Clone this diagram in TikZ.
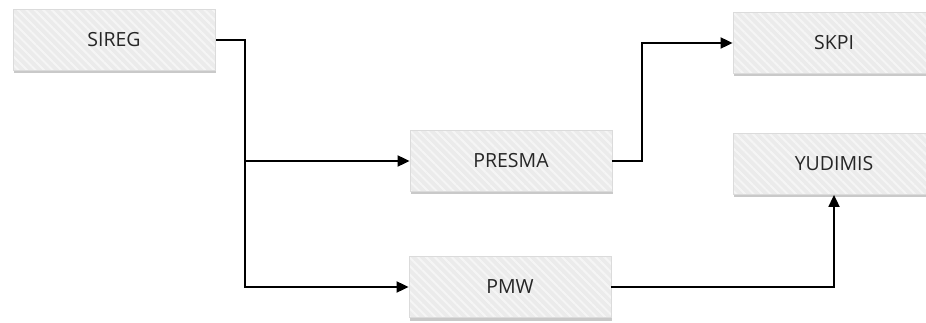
\documentclass[tikz,border=0pt]{standalone}
\usepackage{fontspec}
\setmainfont{Open Sans}
\usetikzlibrary{arrows.meta}
\usetikzlibrary{shadows}
\usetikzlibrary{patterns.meta}

\tikzset{
  module/.style={draw=black!14, line width=0.8pt,
    preaction={drop shadow={shadow xshift=1pt, shadow yshift=-3pt, fill=black!35, opacity=0.6}},
    preaction={fill=black!8},
    pattern={Lines[angle=-45,distance=6pt,line width=2pt]}, pattern color=black!4,
    minimum width=202pt, minimum height=61pt,
    text=black!85, font=\fontsize{19.5}{22}\selectfont},
  flow/.style={line width=1.8pt, -{Triangle[length=12pt,width=11pt]}}
}

\begin{document}
\begin{tikzpicture}[x=1pt, y=-1pt]
  \useasboundingbox (0,0) rectangle (926,323);
  \fill [white] (0,0) rectangle (926,323);

  \node [module] (sireg) at (114,40) {SIREG};
  \node [module] (presma) at (511,161) {PRESMA};
  \node [module] (pmw) at (510,287) {PMW};
  \node [module] (skpi) at (834,43) {SKPI};
  \node [module] (yudimis) at (834,164) {YUDIMIS};

  \coordinate (split) at (245,40);
  \coordinate (bend) at (642,161);

  \draw [flow] (sireg.east) -- (split) |- (presma.west);
  \draw [flow] (split) |- (pmw.west);
  \draw [flow] (presma.east) -- (bend) |- (skpi.west);
  \draw [flow] (pmw.east) -| (yudimis.south);
\end{tikzpicture}
\end{document}
